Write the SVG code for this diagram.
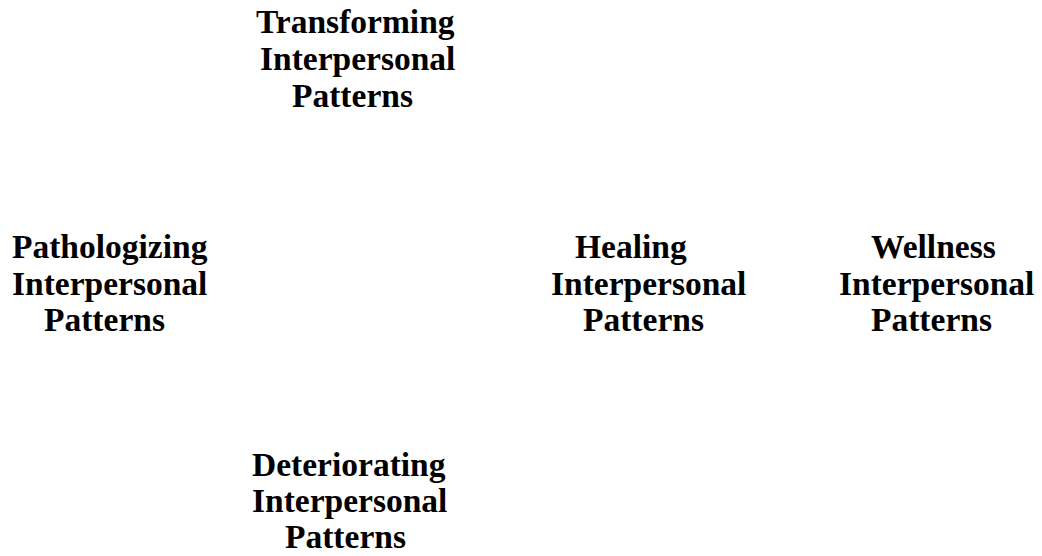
<svg xmlns="http://www.w3.org/2000/svg" width="1042" height="556" viewBox="0 0 1042 556">
<style>
text{font-family:"Liberation Serif","Times New Roman",serif;font-weight:bold;font-size:33.5px;fill:#000}
</style>
<rect width="1042" height="556" fill="#fff"/>
<g id="transforming">
<text x="256" y="33">Transforming</text>
<text x="260" y="70">Interpersonal</text>
<text x="292" y="107">Patterns</text>
</g>
<g id="pathologizing">
<text x="12" y="258">Pathologizing</text>
<text x="12" y="295">Interpersonal</text>
<text x="44" y="331">Patterns</text>
</g>
<g id="healing">
<text x="575" y="258">Healing</text>
<text x="551" y="295">Interpersonal</text>
<text x="583" y="331">Patterns</text>
</g>
<g id="wellness">
<text x="871" y="258">Wellness</text>
<text x="839" y="295">Interpersonal</text>
<text x="871" y="331">Patterns</text>
</g>
<g id="deteriorating">
<text x="252" y="476">Deteriorating</text>
<text x="252" y="512">Interpersonal</text>
<text x="285" y="548">Patterns</text>
</g>
<g id="connectors"></g>
</svg>
